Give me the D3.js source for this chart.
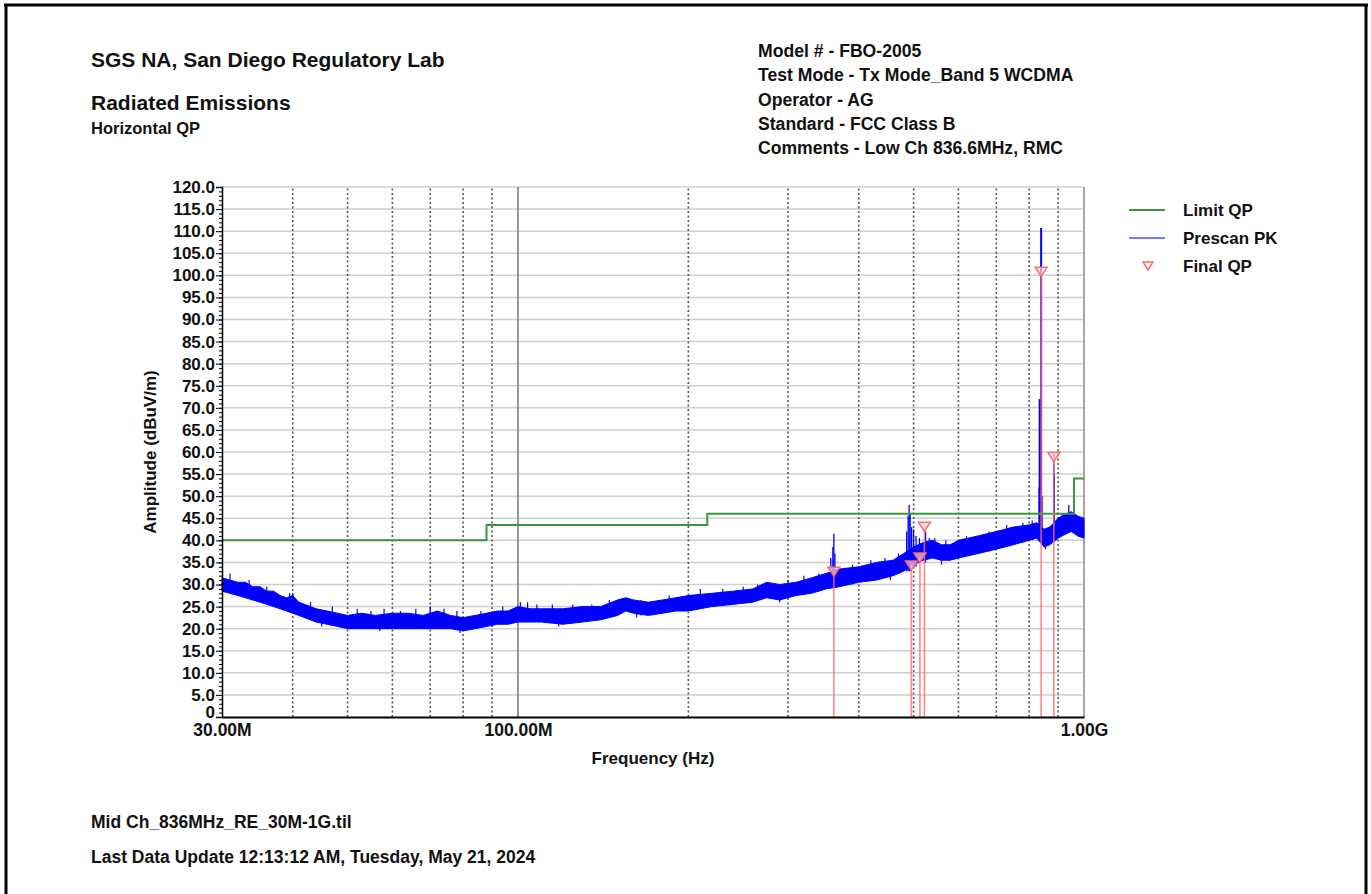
<!DOCTYPE html>
<html lang="en">
<head>
<meta charset="UTF-8">
<title>Radiated Emissions - Horizontal QP</title>
<script src="https://d3js.org/d3.v7.min.js"></script>
<style>
    body { margin: 0; padding: 0; background: #fff; }
    svg text { font-family: "Liberation Sans", Arial, sans-serif; font-weight: bold; fill: #111; }
</style>
</head>
<body>
<svg id="chart" width="1371" height="894"></svg>
<script>
// Limit QP (FCC Class B, 3 m) - step levels starting at each frequency
let limitStartMHz = [30, 88, 216, 960, 1000];
let limitLevel = [40.0, 43.5, 46.0, 54.0, 54.0];

// Prescan PK noise band: frequency, lower edge, upper edge
let prescanFreqMHz = [30, 31, 32, 33, 34, 35, 36, 37, 38, 39, 40, 41, 42, 44, 46, 48, 50, 53, 56, 60, 64, 68, 72, 76, 80, 84, 88, 92, 96, 100,
    105, 110, 120, 130, 140, 150, 155, 160, 170, 180, 190, 200, 220, 240, 260, 275, 290, 310, 330, 350, 370, 400, 430, 460, 480,
    500, 520, 540, 560, 580, 600, 650, 700, 750, 800, 825, 850, 870, 900, 930, 950, 975, 1000];
let prescanLow = [28.5, 28.0, 27.5, 27.0, 26.5, 26.0, 25.5, 25.0, 24.5, 24.0, 23.5, 23.0, 22.5, 21.5, 21.0, 20.5, 20.0, 20.0, 20.0, 20.0, 20.0, 20.0, 20.0, 20.0, 19.5, 20.0, 20.5, 21.0, 21.0, 21.5,
    21.5, 21.5, 21.0, 21.5, 22.0, 23.0, 24.0, 23.5, 23.0, 23.5, 24.0, 24.0, 25.0, 25.5, 26.0, 27.0, 26.5, 27.5, 28.0, 29.0, 29.5, 30.5, 31.0, 32.0, 33.0,
    34.5, 35.5, 36.0, 35.5, 35.5, 36.0, 37.0, 38.0, 39.0, 40.0, 40.5, 38.5, 39.0, 40.5, 41.5, 42.0, 41.0, 40.5];
let prescanHigh = [31.5, 31.0, 30.5, 30.5, 29.5, 29.5, 28.5, 28.5, 27.5, 27.0, 27.5, 26.0, 25.5, 24.5, 24.0, 23.5, 23.0, 23.5, 23.0, 23.5, 23.5, 23.0, 24.0, 23.0, 22.5, 23.0, 23.5, 24.0, 24.0, 25.0,
    24.5, 24.5, 24.5, 25.0, 25.0, 26.5, 27.0, 26.5, 26.0, 26.5, 27.0, 27.5, 28.0, 28.5, 29.0, 30.5, 30.0, 30.5, 31.5, 32.5, 33.5, 34.0, 35.0, 35.5, 37.0,
    38.5, 39.5, 40.0, 39.0, 39.0, 40.0, 41.0, 42.0, 43.0, 43.5, 44.0, 42.5, 43.0, 45.0, 46.0, 46.5, 45.5, 45.0];

// Short noise excursions poking out of the band: frequency, from, to
let noiseFreqMHz = [31, 33.5, 36, 39.5, 43, 45, 47, 52, 55, 57, 58, 62, 66, 74, 78, 79, 86, 94, 104, 108, 115, 118, 125, 135, 145,
    162, 165, 185, 210, 230, 250, 265, 290, 300, 320, 340, 390, 420, 445, 455, 470, 545, 560, 570, 620, 680, 730, 780, 810, 855, 915, 960];
let noiseFrom = [28, 27, 26, 24, 22, 20.5, 21, 20.5, 20.5, 19.5, 20.5, 20.5, 20.5, 20.5, 20.5, 19, 20.5, 21, 22, 22, 22, 20.5, 22, 22, 23,
    22.5, 23, 24, 25, 25.5, 26, 26.5, 26, 27, 28, 28.5, 30, 31, 31.5, 31, 32.5, 36, 34.5, 35.5, 36.5, 37.5, 38.5, 39.5, 40, 38, 41, 42];
let noiseTo = [32.5, 31, 29.5, 28, 26, 22.5, 25, 24.5, 24, 21, 24.5, 24, 24.5, 24.5, 24, 21, 24, 25, 26, 25.5, 25.5, 22, 25.5, 25.5, 26.5,
    24, 26.5, 27.5, 29, 29, 29.5, 30, 28, 31, 32, 32.5, 34.5, 35.5, 36, 33, 37, 40.5, 36.5, 40, 41, 42, 43.5, 44, 44.5, 40, 46, 47.5];

// Prescan PK narrow spikes above the band: frequency, base, top
let spikeFreqMHz = [40, 70, 101, 357, 360, 361.5, 363, 486, 489, 491, 493, 496, 500, 505, 512, 525, 533, 833, 835, 837, 840, 843, 884.5, 886, 940];
let spikeBase = [25, 22, 23, 30, 30, 30, 30, 33, 33, 33, 33, 34, 34, 34, 35, 35, 36, 40, 40, 40, 40, 40, 40, 40, 42];
let spikeTop = [28, 25, 26, 36, 38.5, 41.5, 37, 42, 45.5, 48, 46, 43, 42.5, 41, 40.5, 42, 40.5, 52, 72, 63, 110.7, 50, 59.5, 55, 48];

// Final QP readings
let qpFreqMHz = [361.5, 495.5, 513, 522.5, 840, 884.5];
let qpLevel = [33.0, 34.4, 36.2, 43.2, 100.9, 59.0];

// Axis ticks
let yTicks = d3.range(0, 121, 5);
let xLabelValues = [30e6, 100e6, 1e9];
let xLabelText = ["30.00M", "100.00M", "1.00G"];
let xDottedMHz = [40, 50, 60, 70, 80, 90, 200, 300, 400, 500, 600, 700, 800, 900];

let headerLeft = ["SGS NA, San Diego Regulatory Lab", "Radiated Emissions", "Horizontal QP"];
let headerRight = ["Model # - FBO-2005", "Test Mode - Tx Mode_Band 5 WCDMA", "Operator - AG", "Standard - FCC Class B", "Comments - Low Ch 836.6MHz, RMC"];
let footer = ["Mid Ch_836MHz_RE_30M-1G.til", "Last Data Update 12:13:12 AM, Tuesday, May 21, 2024"];

let colLimit = "#3b963b", colPrescan = "#0000ff", colQP = "#ff6b6b";

function vline(sel, x, lo, hi) {
    return sel.attr("x1", function(d) { return x(d * 1e6); }).attr("x2", function(d) { return x(d * 1e6); })
        .attr("y1", lo).attr("y2", hi);
}

function drawChart(svg) {
    let x = d3.scaleLog().domain([30e6, 1e9]).range([222, 1084]);
    let y = d3.scaleLinear().domain([0, 120]).range([717, 187]);

    // Page frame
    svg.append("line").attr("x1", 4).attr("x2", 1368).attr("y1", 5).attr("y2", 5).attr("stroke", "#000").attr("stroke-width", 3);
    svg.append("line").attr("x1", 6).attr("x2", 6).attr("y1", 4).attr("y2", 894).attr("stroke", "#000").attr("stroke-width", 3);
    svg.append("line").attr("x1", 1366).attr("x2", 1366).attr("y1", 4).attr("y2", 894).attr("stroke", "#000").attr("stroke-width", 3);

    // Header texts
    svg.selectAll("text.hl").data(headerLeft).enter().append("text")
        .attr("x", 91).attr("y", function(d, i) { return [67, 110, 134][i]; })
        .style("font-size", function(d, i) { return i < 2 ? "21px" : "16.5px"; })
        .text(function(d) { return d; });
    svg.selectAll("text.hr").data(headerRight).enter().append("text")
        .attr("x", 758).attr("y", function(d, i) { return 57 + i * 24.3; })
        .style("font-size", "17.6px")
        .text(function(d) { return d; });
    svg.selectAll("text.ft").data(footer).enter().append("text")
        .attr("x", 91).attr("y", function(d, i) { return 828 + i * 35; })
        .style("font-size", "17.5px")
        .text(function(d) { return d; });

    // Horizontal grid
    svg.append("g").selectAll("line").data(yTicks.filter(function(d) { return d > 0; })).enter().append("line")
        .attr("x1", x.range()[0]).attr("x2", x.range()[1])
        .attr("y1", function(d) { return y(d); }).attr("y2", function(d) { return y(d); })
        .attr("stroke", "#cfcfcf").attr("stroke-width", 1.5);

    // Vertical dotted grid
    vline(svg.append("g").selectAll("line").data(xDottedMHz).enter().append("line"), x, y(0), y(120))
        .attr("stroke", "#555").attr("stroke-width", 1.6).attr("stroke-dasharray", "2,2.5");
    vline(svg.append("line").datum(100), x, y(0), y(120)).attr("stroke", "#777").attr("stroke-width", 1.5);
    vline(svg.append("line").datum(1000), x, y(0), y(120)).attr("stroke", "#888").attr("stroke-width", 1.5);

    // Prescan PK band
    let prescan = prescanFreqMHz.map(function(f, i) { return {f: f * 1e6, lo: prescanLow[i], hi: prescanHigh[i]}; });
    let area = d3.area().x(function(d) { return x(d.f); }).y0(function(d) { return y(d.lo); }).y1(function(d) { return y(d.hi); });
    svg.append("path").datum(prescan).attr("d", area)
        .attr("fill", colPrescan).attr("stroke", colPrescan).attr("stroke-width", 1);

    vline(svg.append("g").selectAll("line").data(noiseFreqMHz).enter().append("line"), x,
        function(d, i) { return y(noiseFrom[i]); }, function(d, i) { return y(noiseTo[i]); })
        .attr("stroke", colPrescan).attr("stroke-width", 1.2);

    vline(svg.append("g").selectAll("line").data(spikeFreqMHz).enter().append("line"), x,
        function(d, i) { return y(spikeBase[i]); }, function(d, i) { return y(spikeTop[i]); })
        .attr("stroke", colPrescan).attr("stroke-width", function(d, i) { return spikeTop[i] > 60 ? 2 : 1.3; });

    // Limit QP
    let limit = limitStartMHz.map(function(f, i) { return {f: f * 1e6, v: limitLevel[i]}; });
    let limitLine = d3.line().x(function(d) { return x(d.f); }).y(function(d) { return y(d.v); }).curve(d3.curveStepAfter);
    svg.append("path").datum(limit).attr("d", limitLine)
        .attr("fill", "none").attr("stroke", colLimit).attr("stroke-width", 2);

    // Final QP markers
    let qp = svg.append("g");
    vline(qp.selectAll("line").data(qpFreqMHz).enter().append("line"), x,
        function(d, i) { return y(qpLevel[i]); }, y(0))
        .attr("stroke", colQP).attr("stroke-width", 1.6).attr("stroke-opacity", 0.8);
    qp.selectAll("path").data(qpFreqMHz).enter().append("path")
        .attr("d", "M-6,-4L6,-4L0,5Z")
        .attr("transform", function(d, i) { return "translate(" + x(d * 1e6) + "," + y(qpLevel[i]) + ")"; })
        .attr("fill", "#ffd6d6").attr("fill-opacity", 0.7).attr("stroke", colQP).attr("stroke-width", 1.5);

    // Y axis
    let yAxis = d3.axisLeft(y).tickValues(yTicks).tickSize(6).tickPadding(1)
        .tickFormat(function(d) { return d === 0 ? "0" : d.toFixed(1); });
    let gy = svg.append("g").attr("transform", "translate(" + x.range()[0] + ",0)").call(yAxis);
    gy.select(".domain").attr("stroke", "#000").attr("stroke-width", 1.5);
    gy.selectAll("text").style("font-size", "17px").attr("fill", "#111");
    gy.selectAll(".tick").filter(function(d) { return d === 0; }).select("text").attr("dy", "0");
    let yMinor = d3.axisLeft(y).tickValues(d3.range(0, 121, 1)).tickSize(3).tickFormat("");
    let gm = svg.append("g").attr("transform", "translate(" + x.range()[0] + ",0)").call(yMinor);
    gm.select(".domain").remove();

    // X axis
    let xAxis = d3.axisBottom(x).tickValues(xLabelValues).tickSize(0).tickPadding(7)
        .tickFormat(function(d, i) { return xLabelText[i]; });
    let gx = svg.append("g").attr("transform", "translate(0," + y(0) + ")").call(xAxis);
    gx.select(".domain").attr("stroke", "#000").attr("stroke-width", 2);
    gx.selectAll("text").style("font-size", "17.5px").attr("fill", "#111");

    // Axis titles
    svg.append("text").attr("x", (x.range()[0] + x.range()[1]) / 2).attr("y", 764)
        .attr("text-anchor", "middle").style("font-size", "17px").text("Frequency (Hz)");
    svg.append("text").attr("transform", "translate(156,452) rotate(-90)")
        .attr("text-anchor", "middle").style("font-size", "17px").text("Amplitude (dBuV/m)");

    // Legend
    let legend = svg.append("g");
    legend.append("line").attr("x1", 1129).attr("x2", 1165).attr("y1", 210).attr("y2", 210).attr("stroke", colLimit).attr("stroke-width", 2);
    legend.append("line").attr("x1", 1129).attr("x2", 1165).attr("y1", 238).attr("y2", 238).attr("stroke", "#7777ff").attr("stroke-width", 2);
    legend.append("path").attr("d", "M-5,-4L5,-4L0,4Z").attr("transform", "translate(1148,266)")
        .attr("fill", "none").attr("stroke", colQP).attr("stroke-width", 1.5);
    legend.selectAll("text").data(["Limit QP", "Prescan PK", "Final QP"]).enter().append("text")
        .attr("x", 1183).attr("y", function(d, i) { return 216 + i * 28; })
        .style("font-size", "17px").text(function(d) { return d; });
}

drawChart(d3.select("#chart"));
</script>
</body>
</html>
